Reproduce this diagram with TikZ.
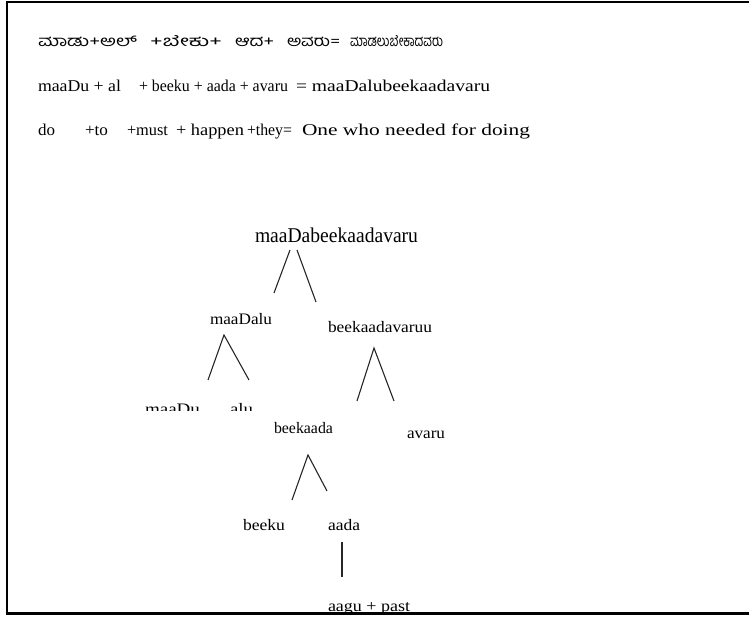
\documentclass[tikz,border=0pt]{standalone}
\usepackage{fontspec}
\setmainfont{Liberation Serif}
\newfontfamily\kan[Script=Kannada]{Hind Mysuru}
\newcommand\wb[2]{\resizebox{#1pt}{\height}{#2}}
\begin{document}
\begin{tikzpicture}[x=1pt,y=-1pt,
  every node/.style={inner sep=0pt, outer sep=0pt},
  hdr/.style={anchor=base west, font=\fontsize{16.5}{19}\selectfont},
  kn/.style={anchor=base west, font=\kan\fontsize{15}{18}\selectfont},
  tl/.style={anchor=base west, font=\fontsize{16}{19}\selectfont},
  rootl/.style={anchor=base west, font=\fontsize{21}{24}\selectfont},
  edge/.style={line width=1.1pt, draw=black!85},
  frame/.style={line width=2.2pt, draw=black}]
\useasboundingbox (0,0) rectangle (749,617);
\clip (0,0) rectangle (749,617);
% header line 1 (Kannada)
\node[kn] (k1) at (38,47) {\wb{99}{ಮಾಡು+ಅಲ್}};
\node[kn] (k2) at (150,47) {\wb{72}{+ಬೇಕು+}};
\node[kn] (k3) at (235,47) {\wb{39}{ಆದ+}};
\node[kn] (k4) at (287,47) {\wb{53}{ಅವರು=}};
\node[kn] (k5) at (350,47) {\wb{93}{ಮಾಡಲುಬೇಕಾದವರು}};
% header line 2
\node[hdr] (t1) at (38,92) {\wb{83}{maaDu + al}};
\node[hdr] (t2) at (139,92) {\wb{149}{+ beeku + aada + avaru}};
\node[hdr] (t3) at (296,92) {\wb{194}{= maaDalubeekaadavaru}};
% header line 3
\node[hdr] (e1) at (38,136) {\wb{17}{do}};
\node[hdr] (e2) at (85,136) {\wb{23}{+to}};
\node[hdr] (e3) at (127,136) {\wb{41}{+must}};
\node[hdr] (e4) at (176,136) {\wb{68}{+ happen}};
\node[hdr] (e5) at (247,136) {\wb{45}{+they=}};
\node[hdr] (e6) at (302,136) {\wb{228}{One who needed for doing}};
% tree
\node[rootl] (root) at (255,243) {\wb{163}{maaDabeekaadavaru}};
\node[tl] (mdl) at (210,324) {\wb{62}{maaDalu}};
\node[tl] (bkv) at (328,332) {\wb{104}{beekaadavaruu}};
\begin{scope}
\clip (0,0) rectangle (749,410);
\node[tl] (md) at (145,414) {\wb{55}{maaDu}};
\node[tl] (alu) at (230,414) {\wb{23}{alu}};
\end{scope}
\node[tl] (bk) at (274,433) {\wb{59}{beekaada}};
\node[tl] (av) at (407,438) {\wb{38}{avaru}};
\node[tl] (bu) at (243,530) {\wb{42}{beeku}};
\node[tl] (ad) at (328,530) {\wb{32}{aada}};
\node[tl] (ag) at (328,611) {\wb{82}{aagu + past}};
% connector end points
\coordinate (r1) at (290,250); \coordinate (r1e) at (274,293);
\coordinate (r2) at (297,250); \coordinate (r2e) at (316,302);
\coordinate (m0) at (224,335); \coordinate (m1) at (208,380); \coordinate (m2) at (249,380);
\coordinate (b0) at (374,348); \coordinate (b1) at (357,401); \coordinate (b2) at (394,401);
\coordinate (c0) at (308,455); \coordinate (c1) at (292,500); \coordinate (c2) at (327,491);
\coordinate (d0) at (342,542); \coordinate (d1) at (342,577);
\draw[edge] (r1) -- (r1e);
\draw[edge] (r2) -- (r2e);
\draw[edge] (m1) -- (m0) -- (m2);
\draw[edge] (b1) -- (b0) -- (b2);
\draw[edge] (c1) -- (c0) -- (c2);
\draw[edge] (d0) -- (d1);
% frame
\draw[frame] (749,2) -- (7,2) -- (7,613.5) -- (749,613.5);
\end{tikzpicture}
\end{document}
